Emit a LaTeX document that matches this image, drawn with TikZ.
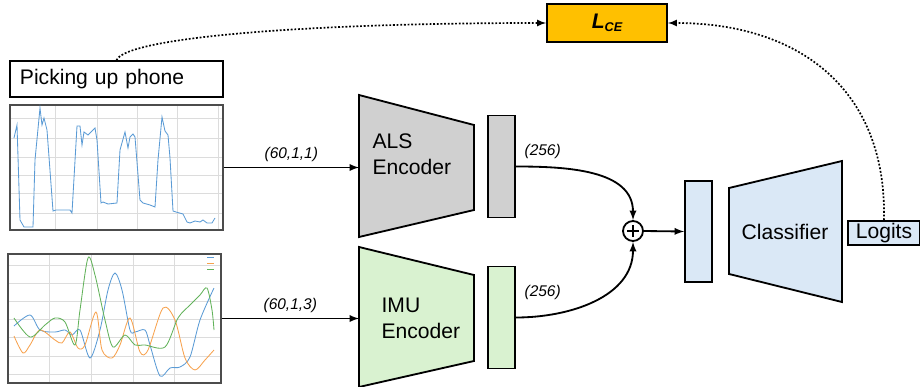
\documentclass[tikz,border=0pt]{standalone}
\usepackage{fontspec}
\setmainfont{Liberation Sans}
\usetikzlibrary{arrows.meta}

\definecolor{alsgray}{HTML}{D0D0D0}
\definecolor{imugreen}{HTML}{D9F2D0}
\definecolor{clsblue}{HTML}{DAE8F6}
\definecolor{lceorange}{HTML}{FFC000}
\definecolor{gridgray}{HTML}{DCDCDC}
\definecolor{plotblue}{HTML}{5B9BD5}
\definecolor{plotorange}{HTML}{F7A24E}
\definecolor{plotgreen}{HTML}{62B25A}

\begin{document}
\begin{tikzpicture}[x=0.025cm,y=-0.025cm,>=latex,line width=1.3pt,
  lbl/.style={font=\fontsize{15}{18.5}\selectfont},
  dims/.style={font=\fontsize{11}{13}\selectfont\itshape},
  vec/.style={draw,minimum width=0.675cm,minimum height=2.55cm,inner sep=0pt},
  chart/.style={draw=black!70,line width=0.8pt,inner sep=0pt},
  loss/.style={->,line width=1.2pt,dash pattern=on 1.3pt off 1.3pt}]
\useasboundingbox (0,0) rectangle (920,387);

% loss box and label box
\node[draw,fill=lceorange,minimum width=3cm,minimum height=0.95cm] (lce) at (607,23)
  {\fontsize{15}{18}\selectfont\bfseries\itshape L\raisebox{-0.25ex}{\fontsize{9}{10}\selectfont CE}};
\node[draw,lbl,line width=1pt,minimum width=5.325cm,minimum height=0.9cm,text width=4.825cm,
  inner xsep=0.25cm,align=left] (pick) at (116.5,79) {Picking up phone};

% ALS signal
\node[chart,minimum width=5.325cm,minimum height=3.125cm] (alsplot) at (116.5,167.5) {};
\foreach \gx in {55,97,137,177,218} \draw[gridgray,line width=0.5pt] (\gx,106) -- (\gx,229);
\foreach \gy in {118,138,157,175,193,213} \draw[gridgray,line width=0.5pt] (11,\gy) -- (222,\gy);
\draw[plotblue,line width=0.6pt] (14,138) -- (17,125) -- (20,220) -- (24,227) -- (33,227) -- (35,160)
  -- (40,108) -- (42,125) -- (44,118) -- (47,130) -- (53,211) -- (56,210) -- (70,210) -- (72,213)
  -- (77,126) -- (80,126) -- (82,145) -- (84,132) -- (88,135) -- (95,128) -- (97,140) -- (101,203)
  -- (103,202) -- (108,204) -- (117,203) -- (120,150) -- (125,132) -- (128,148) -- (130,137)
  -- (133,134) -- (135,137) -- (140,200) -- (143,203) -- (150,205) -- (155,207) -- (158,160)
  -- (162,117) -- (165,131) -- (168,135) -- (170,158) -- (173,211) -- (176,212) -- (183,214)
  -- (187,222) -- (190,223) -- (195,221) -- (200,222) -- (203,220) -- (207,223) -- (212,223) -- (215,218);

% IMU signal
\node[chart,minimum width=5.325cm,minimum height=3.225cm] (imuplot) at (114.5,318.5) {};
\foreach \gx in {49,91,133,174} \draw[gridgray,line width=0.5pt] (\gx,255) -- (\gx,382);
\foreach \gy in {265,283,301,319,337,356,374} \draw[gridgray,line width=0.5pt] (9,\gy) -- (220,\gy);
\draw[plotblue,line width=0.6pt] plot[smooth] coordinates {(14,326) (30,315) (40,330) (55,332)
  (65,330) (72,335) (80,330) (90,358) (100,330) (108,290) (115,273) (122,290) (130,330) (135,332)
  (145,330) (150,345) (160,376) (170,368) (180,367) (190,357) (200,320) (214,288)};
\draw[plotorange,line width=0.6pt] plot[smooth] coordinates {(14,336) (23,353) (30,345) (40,330)
  (55,340) (62,343) (70,332) (78,348) (85,345) (96,312) (102,350) (112,358) (120,345) (130,318)
  (140,352) (148,350) (163,308) (175,320) (185,358) (195,370) (205,360) (214,350)};
\draw[plotgreen,line width=0.6pt] plot[smooth] coordinates {(14,318) (30,337) (45,325) (55,318)
  (65,322) (75,345) (80,310) (88,258) (95,275) (105,320) (113,347) (125,335) (135,345) (145,345)
  (165,347) (178,318) (190,305) (200,295) (207,288) (212,310) (214,330)};
\draw[plotblue,line width=0.6pt] (207,257) -- (214,257);
\draw[plotorange,line width=0.6pt] (207,263) -- (214,263);
\draw[plotgreen,line width=0.6pt] (207,269) -- (214,269);

% encoders
\draw[fill=alsgray] (359,95) -- (474,125) -- (474,210) -- (359,237) -- cycle;
\node[lbl,align=left,anchor=west] (alsenc) at (367,154) {ALS\\Encoder};
\draw[fill=imugreen] (359,247) -- (474,275) -- (474,361) -- (359,387) -- cycle;
\node[lbl,align=left,anchor=west] (imuenc) at (376,318) {IMU\\Encoder};
\coordinate (alsin) at (359,167.5);
\coordinate (imuin) at (359,318.5);

\draw[->] (alsplot.east) -- node[dims,above] {(60,1,1)} (alsin);
\draw[->] (imuplot.east) -- node[dims,above] {(60,1,3)} (imuin);

% embeddings and fusion
\node[vec,fill=alsgray] (alsvec) at (501.5,166.5) {};
\node[vec,fill=imugreen] (imuvec) at (501.5,317.5) {};
\node[dims,anchor=west] at (519,151) {(256)};
\node[dims,anchor=west] at (519,292) {(256)};
\node[draw,circle,minimum size=0.5cm,inner sep=0pt] (plus) at (633,231) {};
\draw[line width=1.6pt] (627,231) -- (639,231) (633,225) -- (633,237);
\draw[->] (alsvec.east) to[out=0,in=90] (plus.north);
\draw[->] (imuvec.east) to[out=0,in=-90] (plus.south);

\node[vec,fill=clsblue,minimum height=2.525cm] (fused) at (698.5,231.5) {};
\draw[->] (plus.east) -- (fused.west);

% classifier
\draw[fill=clsblue] (729,188) -- (842,161) -- (842,302) -- (729,274) -- cycle;
\node[lbl] (cls) at (785,232) {Classifier};
\node[draw,fill=clsblue,lbl,minimum width=1.8cm,minimum height=0.6cm,inner sep=0pt] (logits) at (884,233) {Logits};

% loss connections
\draw[loss] (pick.north) .. controls (125,38) and (300,23) .. (lce.west);
\draw[loss] (logits.north) .. controls (887,90) and (800,23) .. (lce.east);
\end{tikzpicture}
\end{document}
